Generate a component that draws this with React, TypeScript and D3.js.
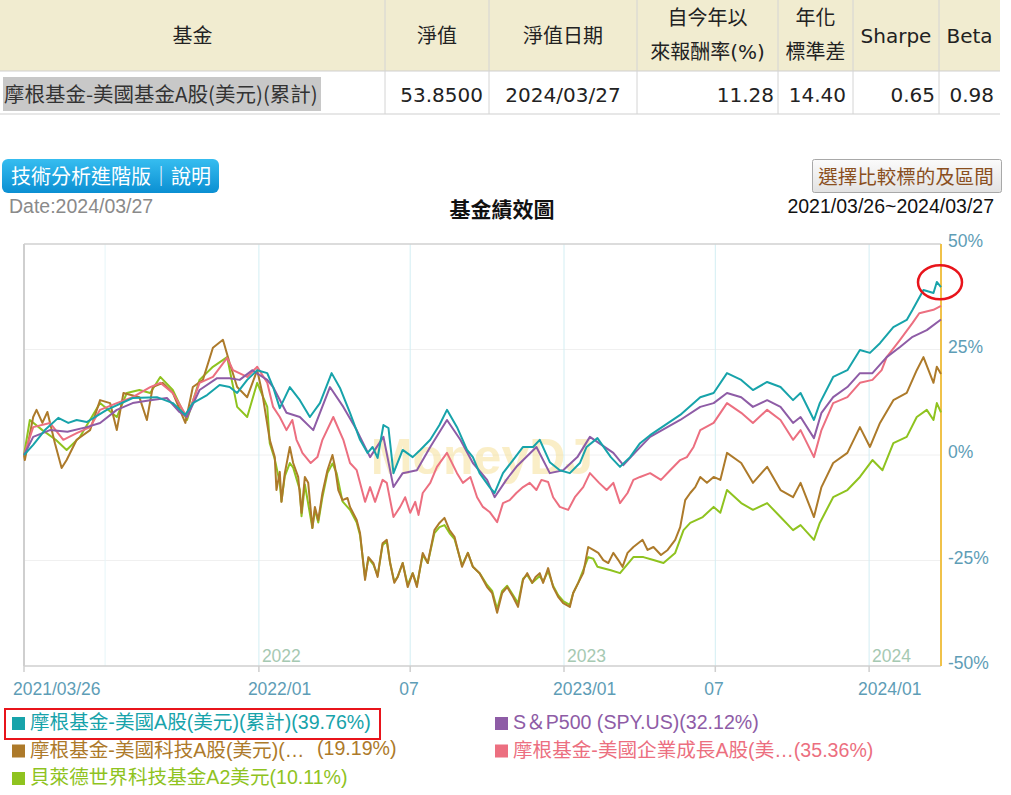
import React from "react";
import * as d3 from "d3";

// ---- data ----
const tableHeaders = ["基金", "淨值", "淨值日期", "自今年以|來報酬率(%)", "年化|標準差", "Sharpe", "Beta"];
const tableRow = ["摩根基金-美國基金A股(美元)(累計)", "53.8500", "2024/03/27", "11.28", "14.40", "0.65", "0.98"];

const yTicks = [50, 25, 0, -25, -50];
const xTickDates = ["2021-03-26", "2022-01-01", "2022-07-01", "2023-01-01", "2023-07-01", "2024-01-01"];
const xTickLabels = ["2021/03/26", "2022/01", "07", "2023/01", "07", "2024/01"];
const gridDates = ["2021-07-01", "2022-01-01", "2022-07-01", "2023-01-01", "2023-07-01", "2024-01-01"];
const yearDates = ["2022-01-01", "2023-01-01", "2024-01-01"];
const yearLabels = ["2022", "2023", "2024"];

type Pt = [string, number];

const tealSeries: Pt[] = [
  ["2021-03-26", 0], ["2021-04-06", 2.4], ["2021-04-20", 5.9], ["2021-05-06", 8.8], ["2021-05-18", 7.6],
  ["2021-05-28", 8.3], ["2021-06-09", 7.8], ["2021-07-03", 10.7], ["2021-08-03", 13.5], ["2021-09-01", 13.7],
  ["2021-09-20", 12.3], ["2021-10-05", 9.5], ["2021-10-14", 12.3], ["2021-10-31", 14.2], ["2021-11-15", 16.6],
  ["2021-11-27", 16.1], ["2021-12-06", 14.7], ["2021-12-18", 17.8], ["2021-12-30", 20.1], ["2022-01-11", 19.4],
  ["2022-01-18", 16.1], ["2022-01-26", 11.1], ["2022-02-07", 16.1], ["2022-02-19", 13.0], ["2022-03-03", 9.0],
  ["2022-03-15", 12.3], ["2022-03-29", 19.4], ["2022-04-08", 15.9], ["2022-04-20", 10.0], ["2022-05-02", 3.6],
  ["2022-05-11", 0.5], ["2022-05-17", 1.9], ["2022-05-23", -0.7], ["2022-05-30", 7.1], ["2022-06-05", 6.4],
  ["2022-06-11", -4.3], ["2022-06-22", 1.2], ["2022-07-04", -0.5], ["2022-07-13", 1.2], ["2022-07-25", 3.6],
  ["2022-08-05", 7.1], ["2022-08-14", 10.7], ["2022-08-26", 6.6], ["2022-09-07", 1.2], ["2022-09-14", -0.5],
  ["2022-09-22", -4.3], ["2022-10-04", -7.6], ["2022-10-10", -9.0], ["2022-10-20", -4.3], ["2022-11-01", -1.2],
  ["2022-11-13", 1.9], ["2022-11-25", 1.9], ["2022-12-03", 3.6], ["2022-12-15", -1.7], ["2022-12-27", -3.6],
  ["2023-01-08", -4.3], ["2023-01-20", -1.9], ["2023-01-28", 1.9], ["2023-02-10", 4.0], ["2023-02-26", -0.5],
  ["2023-03-09", -2.8], ["2023-03-21", -0.5], ["2023-04-02", 2.8], ["2023-04-14", 4.7], ["2023-05-20", 9.5],
  ["2023-06-13", 13.7], ["2023-06-29", 14.7], ["2023-07-15", 19.4], ["2023-08-01", 17.8], ["2023-08-15", 15.4],
  ["2023-09-01", 17.3], ["2023-09-17", 16.1], ["2023-10-02", 13.0], ["2023-10-11", 14.7], ["2023-10-27", 8.3],
  ["2023-11-03", 12.3], ["2023-11-19", 18.5], ["2023-12-06", 20.1], ["2023-12-21", 24.9], ["2024-01-02", 24.2],
  ["2024-01-14", 26.5], ["2024-01-30", 30.3], ["2024-02-15", 32.0], ["2024-02-22", 34.4], ["2024-03-06", 39.1],
  ["2024-03-18", 38.4], ["2024-03-22", 41.0], ["2024-03-27", 39.76],
];

const purpleSeries: Pt[] = [
  ["2021-03-26", 0], ["2021-04-06", 4.3], ["2021-04-26", 5.9], ["2021-05-17", 5.5], ["2021-06-09", 6.6],
  ["2021-06-25", 7.6], ["2021-07-15", 10.7], ["2021-08-03", 12.3], ["2021-08-24", 13.0], ["2021-09-13", 13.5],
  ["2021-09-28", 10.2], ["2021-10-07", 9.0], ["2021-10-22", 15.4], ["2021-11-12", 18.2], ["2021-11-27", 18.2],
  ["2021-12-09", 17.8], ["2021-12-24", 20.1], ["2022-01-11", 17.8], ["2022-01-18", 16.1], ["2022-02-03", 10.0],
  ["2022-02-19", 9.0], ["2022-03-07", 5.9], ["2022-03-27", 16.1], ["2022-04-12", 11.4], ["2022-04-28", 5.9],
  ["2022-05-14", -0.5], ["2022-05-30", 4.3], ["2022-06-11", -7.6], ["2022-06-22", -4.3], ["2022-07-09", -3.6],
  ["2022-07-25", 1.9], ["2022-08-14", 8.3], ["2022-08-30", 3.6], ["2022-09-14", -1.9], ["2022-10-01", -5.9],
  ["2022-10-10", -10.0], ["2022-10-24", -5.9], ["2022-11-05", -2.8], ["2022-11-29", 1.9], ["2022-12-15", -4.3],
  ["2022-12-31", -3.6], ["2023-01-17", -0.5], ["2023-02-01", 4.3], ["2023-03-01", 0.5], ["2023-03-13", -2.4],
  ["2023-03-30", 1.2], ["2023-04-14", 4.3], ["2023-05-20", 8.3], ["2023-06-13", 11.4], ["2023-06-29", 12.3],
  ["2023-07-15", 14.7], ["2023-08-01", 13.7], ["2023-08-15", 11.4], ["2023-09-01", 13.0], ["2023-09-17", 11.4],
  ["2023-10-02", 7.6], ["2023-10-11", 9.0], ["2023-10-27", 4.0], ["2023-11-05", 10.0], ["2023-11-19", 13.7],
  ["2023-12-06", 16.1], ["2023-12-21", 19.4], ["2024-01-05", 19.4], ["2024-01-22", 23.2], ["2024-02-07", 25.6],
  ["2024-02-22", 28.0], ["2024-03-10", 29.6], ["2024-03-27", 32.12],
];

const pinkSeries: Pt[] = [
  ["2021-03-26", 0], ["2021-04-06", 6.6], ["2021-04-26", 7.6], ["2021-05-12", 3.6], ["2021-05-28", 5.2],
  ["2021-06-13", 6.6], ["2021-06-25", 10.7], ["2021-07-15", 12.3], ["2021-08-03", 13.7], ["2021-08-24", 16.1],
  ["2021-09-05", 17.1], ["2021-09-20", 14.7], ["2021-10-07", 9.0], ["2021-10-22", 17.1], ["2021-11-07", 18.5],
  ["2021-11-24", 23.0], ["2021-12-01", 20.1], ["2021-12-18", 18.5], ["2021-12-30", 20.9], ["2022-01-11", 17.1],
  ["2022-01-18", 11.4], ["2022-01-26", 9.0], ["2022-02-03", 5.9], ["2022-02-10", 8.3], ["2022-02-15", 3.6],
  ["2022-02-19", 1.9], ["2022-02-22", 0.5], ["2022-03-04", -1.9], ["2022-03-12", -0.5], ["2022-03-18", 3.6],
  ["2022-03-31", 9.0], ["2022-04-12", 3.6], ["2022-04-20", -1.9], ["2022-04-28", -3.6], ["2022-05-08", -11.1],
  ["2022-05-14", -7.6], ["2022-05-20", -11.1], ["2022-05-29", -5.9], ["2022-06-03", -6.6], ["2022-06-11", -14.7],
  ["2022-06-19", -12.3], ["2022-06-25", -10.0], ["2022-07-01", -13.7], ["2022-07-07", -11.1], ["2022-07-11", -14.2],
  ["2022-07-16", -9.0], ["2022-07-25", -6.6], ["2022-08-02", -2.8], ["2022-08-14", 0.5], ["2022-08-26", -4.3],
  ["2022-09-02", -6.6], ["2022-09-11", -5.2], ["2022-09-19", -10.0], ["2022-09-26", -12.3], ["2022-10-04", -13.5],
  ["2022-10-13", -15.9], ["2022-10-20", -11.4], ["2022-10-28", -10.7], ["2022-11-05", -9.0], ["2022-11-13", -7.6],
  ["2022-11-21", -6.6], ["2022-11-29", -8.3], ["2022-12-05", -5.9], ["2022-12-13", -6.4], ["2022-12-19", -10.0],
  ["2022-12-27", -12.3], ["2023-01-06", -13.0], ["2023-01-14", -10.0], ["2023-01-24", -7.6], ["2023-02-01", -4.3],
  ["2023-02-12", -6.6], ["2023-02-21", -8.3], ["2023-03-01", -6.6], ["2023-03-09", -11.4], ["2023-03-18", -9.0],
  ["2023-03-25", -5.9], ["2023-04-02", -5.2], ["2023-04-14", -4.3], ["2023-04-27", -5.9], ["2023-05-08", -3.6],
  ["2023-05-20", -1.2], ["2023-05-28", -0.5], ["2023-06-05", 1.9], ["2023-06-13", 5.9], ["2023-06-29", 7.6],
  ["2023-07-15", 12.3], ["2023-08-01", 10.0], ["2023-08-15", 7.6], ["2023-09-01", 10.7], ["2023-09-17", 8.3],
  ["2023-10-02", 3.6], ["2023-10-11", 5.9], ["2023-10-27", -0.5], ["2023-11-05", 5.9], ["2023-11-19", 12.3],
  ["2023-12-06", 13.7], ["2023-12-21", 17.1], ["2024-01-05", 17.8], ["2024-01-16", 20.1], ["2024-01-22", 23.2],
  ["2024-02-07", 27.3], ["2024-02-22", 31.3], ["2024-03-01", 33.6], ["2024-03-18", 34.4], ["2024-03-27", 35.36],
];

const brownSeries: Pt[] = [
  ["2021-03-26", 0], ["2021-03-27", -1.2], ["2021-04-06", 9.0], ["2021-04-10", 10.7], ["2021-04-17", 7.6],
  ["2021-04-23", 10.2], ["2021-05-02", 2.8], ["2021-05-10", -3.1], ["2021-05-16", -1.2], ["2021-05-28", 3.6],
  ["2021-06-13", 5.9], ["2021-06-25", 13.0], ["2021-07-07", 12.3], ["2021-07-15", 5.9], ["2021-07-23", 14.7],
  ["2021-08-11", 13.7], ["2021-08-20", 8.3], ["2021-08-27", 16.1], ["2021-09-08", 17.1], ["2021-09-20", 14.7],
  ["2021-10-05", 7.6], ["2021-10-14", 16.1], ["2021-10-26", 17.8], ["2021-11-07", 25.4], ["2021-11-19", 27.3],
  ["2021-11-27", 21.8], ["2021-12-06", 16.1], ["2021-12-18", 13.7], ["2021-12-30", 20.1], ["2022-01-05", 14.7],
  ["2022-01-14", 3.6], ["2022-01-20", -0.5], ["2022-01-22", -8.3], ["2022-01-26", -4.0], ["2022-01-28", -11.1],
  ["2022-02-01", -4.3], ["2022-02-07", 1.9], ["2022-02-11", -1.9], ["2022-02-17", -5.2], ["2022-02-21", -13.7],
  ["2022-02-25", -5.2], ["2022-03-01", -6.6], ["2022-03-06", -17.3], ["2022-03-09", -12.3], ["2022-03-13", -15.4],
  ["2022-03-18", -9.0], ["2022-03-24", -3.6], ["2022-03-30", 0.0], ["2022-04-02", -2.8], ["2022-04-06", -8.3],
  ["2022-04-11", -10.7], ["2022-04-17", -10.2], ["2022-04-20", -12.3], ["2022-04-28", -15.4], ["2022-05-02", -18.5],
  ["2022-05-08", -29.6], ["2022-05-12", -24.2], ["2022-05-18", -25.6], ["2022-05-23", -28.9], ["2022-05-29", -20.9],
  ["2022-06-03", -20.1], ["2022-06-07", -25.6], ["2022-06-12", -30.3], ["2022-06-16", -28.9], ["2022-06-22", -25.6],
  ["2022-06-28", -31.3], ["2022-07-04", -28.0], ["2022-07-09", -31.3], ["2022-07-16", -23.2], ["2022-07-22", -25.6],
  ["2022-07-30", -17.8], ["2022-08-05", -16.1], ["2022-08-11", -14.9], ["2022-08-17", -17.8], ["2022-08-23", -19.4],
  ["2022-09-01", -26.5], ["2022-09-08", -23.2], ["2022-09-14", -26.5], ["2022-09-22", -28.0], ["2022-10-01", -31.3],
  ["2022-10-07", -32.7], ["2022-10-13", -37.4], ["2022-10-19", -32.7], ["2022-10-25", -31.3], ["2022-11-01", -33.6],
  ["2022-11-07", -36.0], ["2022-11-13", -29.6], ["2022-11-18", -28.0], ["2022-11-24", -30.3], ["2022-11-28", -28.9],
  ["2022-12-03", -28.0], ["2022-12-07", -30.3], ["2022-12-13", -26.8], ["2022-12-19", -31.3], ["2022-12-25", -33.6],
  ["2022-12-31", -35.1], ["2023-01-08", -36.0], ["2023-01-12", -32.7], ["2023-01-18", -30.3], ["2023-01-24", -28.0],
  ["2023-01-30", -21.8], ["2023-02-05", -22.5], ["2023-02-11", -23.2], ["2023-02-17", -24.9], ["2023-02-23", -25.6],
  ["2023-03-01", -23.2], ["2023-03-07", -24.9], ["2023-03-12", -26.5], ["2023-03-18", -23.2], ["2023-03-25", -21.8],
  ["2023-04-05", -20.1], ["2023-04-11", -22.5], ["2023-04-18", -21.8], ["2023-04-27", -23.7], ["2023-05-05", -22.5],
  ["2023-05-14", -20.1], ["2023-05-20", -17.1], ["2023-05-26", -10.7], ["2023-06-01", -9.0], ["2023-06-07", -7.6],
  ["2023-06-13", -5.2], ["2023-06-21", -6.6], ["2023-06-29", -5.2], ["2023-07-07", -5.9], ["2023-07-15", 0.5],
  ["2023-08-01", -1.9], ["2023-08-15", -6.6], ["2023-09-01", -2.8], ["2023-09-17", -8.3], ["2023-10-02", -10.0],
  ["2023-10-11", -6.6], ["2023-10-27", -14.7], ["2023-11-05", -7.6], ["2023-11-19", -1.9], ["2023-12-06", 0.5],
  ["2023-12-21", 6.6], ["2024-01-02", 1.9], ["2024-01-14", 7.6], ["2024-01-30", 13.0], ["2024-02-15", 14.7],
  ["2024-02-27", 20.1], ["2024-03-06", 23.2], ["2024-03-18", 17.1], ["2024-03-22", 20.9], ["2024-03-27", 19.19],
];

const greenSeries: Pt[] = [
  ["2021-03-26", 0], ["2021-04-02", 8.3], ["2021-04-17", 5.9], ["2021-05-03", 3.6], ["2021-05-16", 1.2],
  ["2021-06-01", 4.3], ["2021-06-25", 12.3], ["2021-07-15", 9.0], ["2021-07-27", 14.7], ["2021-08-11", 15.4],
  ["2021-08-24", 14.7], ["2021-09-05", 18.5], ["2021-09-20", 15.4], ["2021-10-07", 8.3], ["2021-10-22", 17.8],
  ["2021-11-07", 20.9], ["2021-11-24", 23.2], ["2021-12-06", 11.4], ["2021-12-18", 9.0], ["2021-12-30", 17.1],
  ["2022-01-11", 11.4], ["2022-01-14", 2.8], ["2022-01-20", -1.0], ["2022-01-26", -6.6], ["2022-01-28", -11.0],
  ["2022-02-01", -5.0], ["2022-02-07", -1.9], ["2022-02-11", -3.0], ["2022-02-19", -8.3], ["2022-02-21", -14.5],
  ["2022-02-25", -7.0], ["2022-03-06", -17.3], ["2022-03-09", -13.0], ["2022-03-13", -16.0], ["2022-03-18", -10.0],
  ["2022-03-24", -4.3], ["2022-03-30", -2.0], ["2022-04-04", -4.3], ["2022-04-11", -11.0], ["2022-04-20", -13.0],
  ["2022-04-28", -16.0], ["2022-05-02", -19.0], ["2022-05-08", -29.0], ["2022-05-12", -24.5], ["2022-05-18", -26.0],
  ["2022-05-23", -28.5], ["2022-05-29", -21.3], ["2022-06-03", -20.5], ["2022-06-07", -25.6], ["2022-06-12", -30.0],
  ["2022-06-16", -28.9], ["2022-06-22", -25.6], ["2022-06-28", -30.8], ["2022-07-04", -28.0], ["2022-07-09", -30.8],
  ["2022-07-16", -23.7], ["2022-07-22", -25.6], ["2022-07-30", -18.5], ["2022-08-05", -17.1], ["2022-08-11", -16.6],
  ["2022-08-17", -18.5], ["2022-08-23", -19.9], ["2022-09-01", -26.1], ["2022-09-08", -23.2], ["2022-09-14", -26.5],
  ["2022-09-22", -28.0], ["2022-10-01", -30.8], ["2022-10-07", -32.2], ["2022-10-13", -36.5], ["2022-10-19", -32.2],
  ["2022-10-25", -31.0], ["2022-11-01", -33.2], ["2022-11-07", -35.1], ["2022-11-13", -29.3], ["2022-11-18", -28.4],
  ["2022-11-24", -30.3], ["2022-12-03", -28.7], ["2022-12-07", -30.0], ["2022-12-13", -27.5], ["2022-12-19", -31.0],
  ["2022-12-25", -33.2], ["2022-12-31", -34.6], ["2023-01-08", -35.5], ["2023-01-12", -32.7], ["2023-01-18", -30.3],
  ["2023-01-24", -27.3], ["2023-01-30", -24.2], ["2023-02-05", -24.6], ["2023-02-10", -26.5], ["2023-02-26", -27.3],
  ["2023-03-09", -28.0], ["2023-03-25", -24.2], ["2023-04-06", -24.2], ["2023-04-18", -24.9], ["2023-04-30", -25.6],
  ["2023-05-14", -23.2], ["2023-05-24", -17.8], ["2023-06-01", -16.1], ["2023-06-16", -14.7], ["2023-06-29", -12.3],
  ["2023-07-07", -13.7], ["2023-07-15", -8.3], ["2023-08-01", -11.4], ["2023-08-15", -13.0], ["2023-09-01", -11.4],
  ["2023-09-17", -14.7], ["2023-10-02", -17.8], ["2023-10-11", -16.6], ["2023-10-27", -20.1], ["2023-11-03", -16.1],
  ["2023-11-19", -10.0], ["2023-12-06", -8.3], ["2023-12-21", -5.2], ["2024-01-05", -1.2], ["2024-01-17", -3.6],
  ["2024-01-30", 2.8], ["2024-02-15", 4.3], ["2024-02-27", 9.0], ["2024-03-10", 10.7], ["2024-03-18", 8.3],
  ["2024-03-22", 12.3], ["2024-03-27", 10.11],
];

const seriesColors = ["#8fc31f", "#ad7a2a", "#ec6f80", "#8e5ca6", "#17a3aa"];
const seriesList = [greenSeries, brownSeries, pinkSeries, purpleSeries, tealSeries];

const legendNames = [
  "摩根基金-美國A股(美元)(累計)",
  "S＆P500 (SPY.US)",
  "摩根基金-美國科技A股(美元)(…",
  "摩根基金-美國企業成長A股(美…",
  "貝萊德世界科技基金A2美元",
];
const legendValues = ["(39.76%)", "(32.12%)", "(19.19%)", "(35.36%)", "(10.11%)"];
const legendColors = ["#17a3aa", "#8e5ca6", "#ad7a2a", "#ec6f80", "#8fc31f"];

const parse = d3.timeParse("%Y-%m-%d");

const CJK = "'Noto Sans CJK TC', sans-serif";
const SANS = "'Liberation Sans', Arial, 'Noto Sans CJK TC', sans-serif";
const VERD = "'DejaVu Sans', 'Noto Sans CJK TC', sans-serif";

export default function App() {
  const W = 1011, H = 795;
  const left = 24, right = 941, top = 244, bottom = 666;

  const x = d3.scaleTime()
    .domain([parse("2021-03-26")!, parse("2024-03-27")!])
    .range([left, right]);
  const y = d3.scaleLinear().domain([-50, 50]).range([bottom, top]);

  const line = d3.line<Pt>()
    .x(d => x(parse(d[0])!))
    .y(d => y(d[1]));

  // table geometry
  const colEdges = [0, 385, 489, 637, 778, 853, 939, 1000];
  const headRowH = 71, dataRowH = 43;

  const last = tealSeries[tealSeries.length - 1];

  return (
    <div>
      <style>{`body{margin:0}`}</style>
      <svg width={W} height={H} style={{ display: "block", background: "#fff" }}>
        <defs>
          <linearGradient id="blueBtn" x1="0" y1="0" x2="0" y2="1">
            <stop offset="0" stopColor="#36bdf0" />
            <stop offset="1" stopColor="#0b8fd2" />
          </linearGradient>
          <linearGradient id="grayBtn" x1="0" y1="0" x2="0" y2="1">
            <stop offset="0" stopColor="#fbfbfb" />
            <stop offset="1" stopColor="#e2e2e2" />
          </linearGradient>
        </defs>

        {/* table */}
        <rect x={0} y={0} width={1000} height={headRowH} fill="#f1ecd0" />
        <line x1={0} x2={1000} y1={headRowH} y2={headRowH} stroke="#cfcfcf" />
        <line x1={0} x2={1000} y1={headRowH + dataRowH} y2={headRowH + dataRowH} stroke="#cfcfcf" />
        {colEdges.slice(1, -1).map((cx, i) => (
          <line key={i} x1={cx} x2={cx} y1={0} y2={headRowH + dataRowH} stroke="#d4d4d4" />
        ))}
        {tableHeaders.map((h, i) => {
          const cx = (colEdges[i] + colEdges[i + 1]) / 2;
          const parts = h.split("|");
          if (parts.length === 1) {
            return (
              <text key={i} x={cx} y={43} textAnchor="middle" fontSize={20} fontFamily={VERD} fill="#222">{h}</text>
            );
          }
          return (
            <text key={i} textAnchor="middle" fontSize={20} fontFamily={VERD} fill="#222">
              <tspan x={cx} y={25}>{parts[0]}</tspan>
              <tspan x={cx} y={59}>{parts[1]}</tspan>
            </text>
          );
        })}
        <rect x={3} y={77} width={318} height={34} fill="#c8c8c8" />
        <text x={4} y={102} fontSize={20.5} fontFamily={CJK} fill="#333">{tableRow[0]}</text>
        <text x={483} y={102} textAnchor="end" fontSize={20} fontFamily={VERD} fill="#222">{tableRow[1]}</text>
        <text x={563} y={102} textAnchor="middle" fontSize={20} fontFamily={VERD} fill="#222">{tableRow[2]}</text>
        <text x={774} y={102} textAnchor="end" fontSize={20} fontFamily={VERD} fill="#222">{tableRow[3]}</text>
        <text x={846} y={102} textAnchor="end" fontSize={20} fontFamily={VERD} fill="#222">{tableRow[4]}</text>
        <text x={935} y={102} textAnchor="end" fontSize={20} fontFamily={VERD} fill="#222">{tableRow[5]}</text>
        <text x={994} y={102} textAnchor="end" fontSize={20} fontFamily={VERD} fill="#222">{tableRow[6]}</text>

        {/* buttons and titles */}
        <rect x={2} y={159} width={217} height={34} rx={6} fill="url(#blueBtn)" />
        <text x={11} y={184} fontSize={20} fontFamily={CJK} fill="#fff">技術分析進階版｜說明</text>
        <rect x={812.5} y={159.5} width={189} height={33} rx={2} fill="url(#grayBtn)" stroke="#a8a8a8" />
        <text x={906} y={184} textAnchor="middle" fontSize={19.5} fontFamily={CJK} fill="#8a4f1e">選擇比較標的及區間</text>
        <text x={9} y={213} fontSize={19.5} fontFamily={SANS} fill="#8a8a8a">Date:2024/03/27</text>
        <text x={502} y={217} textAnchor="middle" fontSize={21} fontWeight="bold" fontFamily={CJK} fill="#111">基金績效圖</text>
        <text x={994} y={213} textAnchor="end" fontSize={19.5} fontFamily={SANS} fill="#111">2021/03/26~2024/03/27</text>

        {/* plot frame & grid */}
        {yTicks.filter(t => t !== 50 && t !== -50).map(t => (
          <line key={t} x1={left} x2={right} y1={y(t)} y2={y(t)} stroke="#f0f0f0" />
        ))}
        {gridDates.map((d, i) => (
          <line key={d} x1={x(parse(d)!)} x2={x(parse(d)!)} y1={top} y2={bottom}
            stroke={i === 0 ? "#e6f5f8" : "#d3eef3"} />
        ))}
        <line x1={left} x2={right} y1={top} y2={top} stroke="#d0d0d0" strokeWidth={1.5} />
        <line x1={left} x2={right} y1={bottom} y2={bottom} stroke="#cfcfcf" strokeWidth={1.5} />
        <line x1={left} x2={left} y1={top} y2={bottom} stroke="#cfcfcf" strokeWidth={2} />
        <line x1={right} x2={right} y1={top} y2={bottom} stroke="#f0c24a" strokeWidth={2} />
        {xTickDates.map(d => (
          <line key={d} x1={x(parse(d)!)} x2={x(parse(d)!)} y1={bottom} y2={bottom + 6} stroke="#cfcfcf" strokeWidth={1.5} />
        ))}

        {/* watermark */}
        <text x={482} y={474} textAnchor="middle" fontSize={50} fontWeight="bold" fontFamily={SANS}
          fill="#f6e19a" opacity={0.55}>MoneyDJ</text>

        {/* year labels in plot */}
        {yearDates.map((d, i) => (
          <text key={d} x={x(parse(d)!) + 3} y={662} fontSize={17.5} fontFamily={SANS} fill="#a6c9b2">{yearLabels[i]}</text>
        ))}

        {/* series */}
        {seriesList.map((s, i) => (
          <path key={i} d={line(s) ?? ""} fill="none" stroke={seriesColors[i]} strokeWidth={2} strokeLinejoin="round" />
        ))}

        {/* axes labels */}
        {yTicks.map(t => (
          <text key={t} x={right + 7} y={y(t) + 3} fontSize={17.5} fontFamily={SANS} fill="#5e9db6">{t}%</text>
        ))}
        {xTickDates.map((d, i) => (
          <text key={d + i} x={x(parse(d)!) - 11} y={695} fontSize={17.5} fontFamily={SANS} fill="#5e9db6">{xTickLabels[i]}</text>
        ))}

        {/* highlight ellipse */}
        <ellipse cx={x(parse(last[0])!) - 1} cy={y(last[1]) - 5} rx={22} ry={17} fill="none" stroke="#e8141b" strokeWidth={2.5} />

        {/* legend */}
        <rect x={5} y={709} width={375} height={30} fill="none" stroke="#e8141b" strokeWidth={2} />
        {legendNames.map((n, i) => {
          const col = i === 0 || i === 2 || i === 4 ? 0 : 1;
          const row = i === 0 || i === 1 ? 0 : i === 2 || i === 3 ? 1 : 2;
          const lx = col === 0 ? 12 : 495;
          const ly = 729 + row * 27.5;
          return (
            <g key={n}>
              <rect x={lx} y={ly - 12} width={13} height={13} fill={legendColors[i]} />
              <text x={lx + 18} y={ly} fontSize={19.6} fontFamily={SANS} fill={legendColors[i]}>
                {n}
                {i === 2 ? <tspan x={317} dy={-2}>{legendValues[i]}</tspan> : legendValues[i]}
              </text>
            </g>
          );
        })}
      </svg>
    </div>
  );
}
